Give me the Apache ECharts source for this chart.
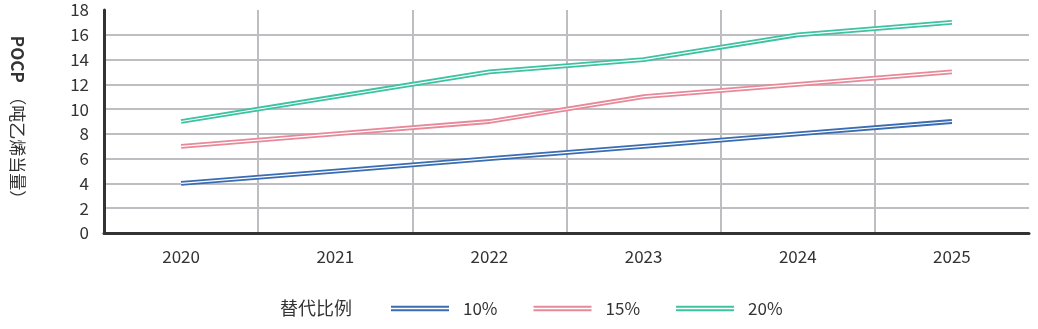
<!DOCTYPE html>
<html>
<head>
<meta charset="utf-8">
<script src="https://cdn.jsdelivr.net/npm/echarts@6/dist/echarts.min.js"></script>
<style>
html,body{margin:0;padding:0;background:#fff;}
#c{width:1038px;height:329px;}
</style>
</head>
<body>
<div id="c"></div>
<script>
var categories = ['2020','2021','2022','2023','2024','2025'];
var seriesNames = ['10%','15%','20%'];
var values10 = [4, 5, 6, 7, 8, 9];
var values15 = [7, 8, 9, 11, 12, 13];
var values20 = [9, 11, 13, 14, 16, 17];
var colors = ['#3a6cb2', '#e8899a', '#3dc2a2'];

var FONT = '"Noto Sans CJK SC", "Noto Sans", sans-serif';
var dataSets = [values10, values15, values20];
var series = [];
dataSets.forEach(function (d, i) {
  series.push({
    name: seriesNames[i], type: 'line', data: d, symbol: 'none',
    lineStyle: { color: colors[i], width: 4.8 }, itemStyle: { color: colors[i] },
    z: 2, animation: false
  });
});
dataSets.forEach(function (d, i) {
  series.push({
    name: seriesNames[i] + ' ', type: 'line', data: d, symbol: 'none', silent: true,
    lineStyle: { color: '#ffffff', width: 1.2 }, z: 3, animation: false
  });
});

var chart = echarts.init(document.getElementById('c'));
chart.setOption({
  animation: false,
  textStyle: { fontFamily: FONT },
  grid: { left: 104, right: 9, top: 10, bottom: 96, containLabel: false, outerBoundsMode: 'none' },
  graphic: [{
    type: 'text', left: 280, top: 299,
    style: { text: '替代比例', font: '18px ' + FONT, fill: '#333' }
  }],
  legend: {
    data: seriesNames, left: 391, top: 300, padding: 0,
    icon: 'path://M0,0H58V2H0Z M0,3.5H58V5.5H0Z',
    itemWidth: 58, itemHeight: 6, itemGap: 36,
    textStyle: { fontSize: 17, color: '#333', fontFamily: FONT, padding: [0, 0, 0, 9] }
  },
  xAxis: {
    type: 'category', data: categories, boundaryGap: true,
    axisLine: { lineStyle: { color: '#333', width: 3 } },
    axisTick: { show: false },
    axisLabel: { color: '#333', fontSize: 17, margin: 15, fontFamily: FONT },
    splitLine: { show: true, showMinLine: false, showMaxLine: false, lineStyle: { color: '#bdbdc2', width: 2 } }
  },
  yAxis: {
    type: 'value', min: 0, max: 18, interval: 2,
    axisLine: { show: true, lineStyle: { color: '#333', width: 3 } },
    axisTick: { show: false },
    axisLabel: { color: '#333', fontSize: 17, margin: 15, fontFamily: FONT },
    splitLine: { show: true, showMaxLine: false, lineStyle: { color: '#bdbdc2', width: 2 } },
    name: '{b|POCP}  {n|（吨乙烯当量）}',
    nameLocation: 'middle', nameRotate: -90, nameGap: 78,
    nameTextStyle: {
      rich: {
        b: { fontSize: 17, fontWeight: 'bold', color: '#333', fontFamily: FONT },
        n: { fontSize: 17, color: '#333', fontFamily: FONT }
      }
    }
  },
  series: series
});
</script>
</body>
</html>
